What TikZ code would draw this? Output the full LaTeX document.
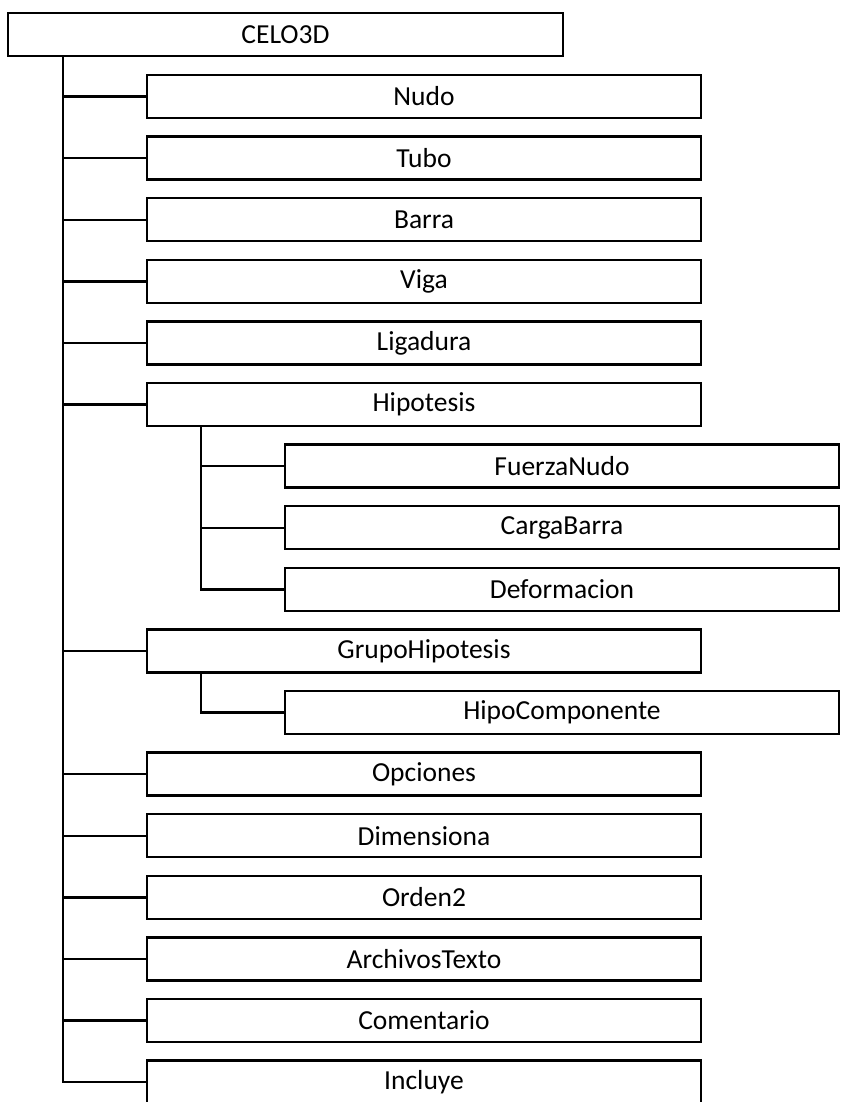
\documentclass[tikz,border=0pt]{standalone}
\usepackage{fontspec}
\setmainfont{Carlito}
\begin{document}
\begin{tikzpicture}[x=1pt,y=-1pt,
  box/.style={draw=black,line width=2.4pt,fill=white,inner sep=0pt,minimum height=43pt,
    font=\fontsize{27.5}{33}\selectfont},
  rootbox/.style={box,minimum width=555pt},
  kidbox/.style={box,minimum width=554pt},
  link/.style={draw=black,line width=2.4pt}]
\useasboundingbox (0,0) rectangle (841,1102);
\node[rootbox] (root) at (285.5,34.5) {CELO3D};
\node[kidbox] (nudo) at (424,96.5) {Nudo};
\node[kidbox] (tubo) at (424,158.1) {Tubo};
\node[kidbox] (barra) at (424,219.7) {Barra};
\node[kidbox] (viga) at (424,281.3) {Viga};
\node[kidbox] (ligadura) at (424,342.9) {Ligadura};
\node[kidbox] (hip) at (424,404.5) {Hipotesis};
\node[kidbox] (fuerza) at (562,466.1) {FuerzaNudo};
\node[kidbox] (carga) at (562,527.7) {CargaBarra};
\node[kidbox] (deform) at (562,589.3) {Deformacion};
\node[kidbox] (grupo) at (424,650.9) {GrupoHipotesis};
\node[kidbox] (hipocomp) at (562,712.5) {HipoComponente};
\node[kidbox] (opciones) at (424,774.1) {Opciones};
\node[kidbox] (dimensiona) at (424,835.7) {Dimensiona};
\node[kidbox] (orden) at (424,897.3) {Orden2};
\node[kidbox] (archivos) at (424,958.9) {ArchivosTexto};
\node[kidbox] (comentario) at (424,1020.5) {Comentario};
\node[kidbox] (incluye) at (424,1082.1) {Incluye};
\foreach \k in {nudo,tubo,barra,viga,ligadura,hip,grupo,opciones,dimensiona,orden,archivos,comentario,incluye}
  \draw[link] ([xshift=56pt]root.south west) |- (\k.west);
\foreach \k in {fuerza,carga,deform}
  \draw[link] ([xshift=55pt]hip.south west) |- (\k.west);
\draw[link] ([xshift=55pt]grupo.south west) |- (hipocomp.west);
\end{tikzpicture}
\end{document}
